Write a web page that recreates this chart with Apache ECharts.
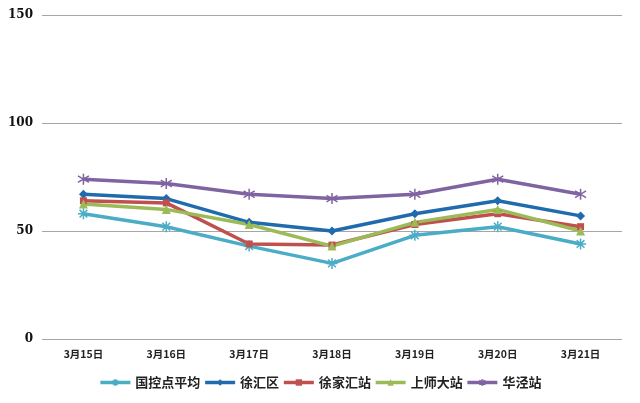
<!DOCTYPE html>
<html><head><meta charset="utf-8">
<script src="https://cdn.jsdelivr.net/npm/echarts@6/dist/echarts.min.js"></script>
<style>html,body{margin:0;padding:0;background:#fff}#c{width:640px;height:403px}</style>
</head><body><div id="c"></div>
<script>
const categories = ['3月15日','3月16日','3月17日','3月18日','3月19日','3月20日','3月21日'];
const yTicks = [0, 50, 100, 150];
const guokong = [58, 52, 43, 35, 48, 52, 44];
const xuhui = [67, 65, 54, 50, 58, 64, 57];
const xujiahui = [64, 63, 44, 43.5, 53, 58, 52];
const shangshi = [62.5, 60, 53, 43, 54, 60, 50];
const huajing = [74, 72, 67, 65, 67, 74, 67];
const names = ['国控点平均','徐汇区','徐家汇站','上师大站','华泾站'];
const colors = ['#4BACC6','#1F6BAE','#C0504D','#9BBB59','#8064A2'];
const symbols = [
  'path://M0,-10L0,10M-10,0L10,0M-7,-7L7,7M-7,7L7,-7',
  'diamond','rect','triangle',
  'path://M0,-10L0,10M-8,-6L8,6M-8,6L8,-6'
];
const datas = [guokong, xuhui, xujiahui, shangshi, huajing];
const chart = echarts.init(document.getElementById('c'));
chart.setOption({
  animation:false,
  backgroundColor:'#fff',
  grid:{left:42,right:18,top:15,bottom:64,containLabel:false},
  legend:{
    bottom:9,left:'center',itemWidth:30,itemHeight:8,itemGap:3,
    lineStyle:{width:3.5},
    textStyle:{fontFamily:'Noto Sans CJK SC',fontWeight:'bold',fontSize:13,color:'#222'},
    data:names
  },
  xAxis:{
    type:'category',data:categories,boundaryGap:true,
    axisLine:{show:false},axisTick:{show:false},
    axisLabel:{margin:10,fontFamily:'Noto Sans CJK SC',fontWeight:'bold',fontSize:10.5,color:'#222'}
  },
  yAxis:{
    type:'value',min:yTicks[0],max:yTicks[yTicks.length-1],interval:50,
    axisLine:{show:false},axisTick:{show:false},
    axisLabel:{margin:9,fontFamily:'DejaVu Serif',fontWeight:'bold',fontSize:12,color:'#111'},
    splitLine:{lineStyle:{color:'#a6a6a6',width:1}}
  },
  series:datas.map((d,i)=>({
    name:names[i],type:'line',data:d,
    symbol:symbols[i],
    symbolSize: i===0||i===4 ? 11 : (i===2?7:9),
    showAllSymbol:true,
    lineStyle:{width:3.5,color:colors[i]},
    itemStyle:{color:colors[i],borderColor:colors[i],borderWidth:(i===0||i===4)?1.5:0}
  }))
});
</script></body></html>
